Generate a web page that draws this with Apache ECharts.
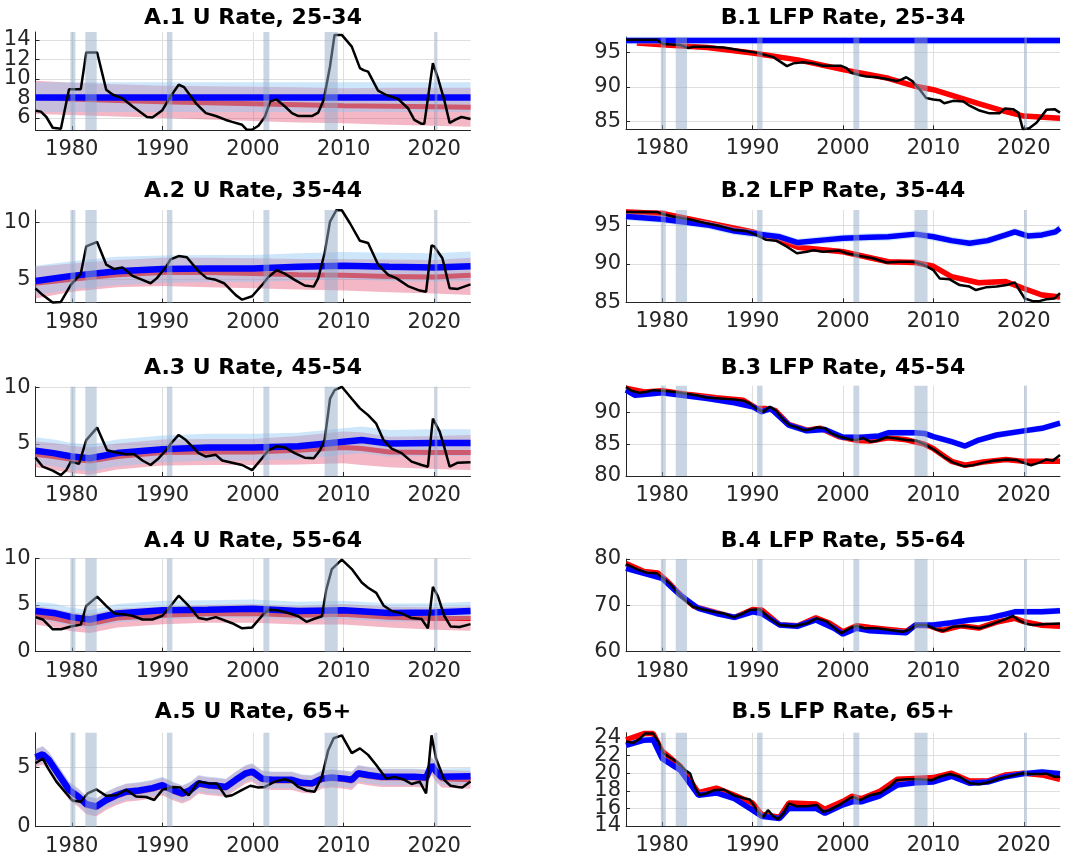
<!DOCTYPE html>
<html><head><meta charset="utf-8">
<script src="https://cdn.jsdelivr.net/npm/echarts@6/dist/echarts.min.js"></script>
<style>html,body{margin:0;padding:0;background:#fff}#c{width:1081px;height:867px}</style>
</head><body><div id="c"></div>
<script>
// ---------- DATA ----------
const xTicks = [1980, 1990, 2000, 2010, 2020];
const recessions = [[1979.85,1980.4],[1981.5,1982.75],[1990.5,1991.1],[2001.15,2001.8],[2007.9,2009.35],[2020.05,2020.35]];

const titles = ['A.1 U Rate, 25-34','B.1 LFP Rate, 25-34','A.2 U Rate, 35-44','B.2 LFP Rate, 35-44',
  'A.3 U Rate, 45-54','B.3 LFP Rate, 45-54','A.4 U Rate, 55-64','B.4 LFP Rate, 55-64','A.5 U Rate, 65+','B.5 LFP Rate, 65+'];

const a1Ticks = [6,8,10,12,14];
const a2Ticks = [5,10];
const a3Ticks = [5,10];
const a4Ticks = [0,5,10];
const a5Ticks = [0,5];
const b1Ticks = [85,90,95];
const b2Ticks = [85,90,95];
const b3Ticks = [80,85,90];
const b4Ticks = [60,70,80];
const b5Ticks = [14,16,18,20,22,24];

// A.1
const a1Black = [[1976,6.75],[1976.6,6.65],[1977.2,6.1],[1977.9,5.0],[1978.8,4.9],[1979.7,8.95],[1981.0,8.95],[1981.6,12.7],[1982.8,12.7],[1983.8,8.9],[1984.5,8.4],[1985.6,8.0],[1986.7,7.2],[1988.3,6.1],[1988.9,6.05],[1990.0,6.8],[1990.9,8.2],[1991.8,9.4],[1992.4,9.15],[1993.7,7.5],[1994.8,6.5],[1995.9,6.2],[1997.0,5.8],[1997.7,5.6],[1998.8,5.3],[1999.3,4.8],[1999.9,4.8],[2000.6,5.2],[2001.3,6.1],[2001.9,7.7],[2002.6,7.9],[2003.5,7.2],[2004.3,6.5],[2005.0,6.2],[2006.5,6.2],[2007.2,6.55],[2007.8,7.85],[2008.5,11.3],[2009.0,14.5],[2009.8,14.5],[2010.9,13.3],[2011.8,11.1],[2012.2,10.9],[2012.7,10.75],[2013.8,8.8],[2014.7,8.35],[2016.0,7.95],[2017.1,7.0],[2017.8,5.8],[2018.6,5.4],[2018.9,5.4],[2019.85,11.6],[2020.4,10.1],[2021.1,7.85],[2021.7,5.5],[2022.4,5.85],[2023.0,6.1],[2024.0,5.9]];
const a1Red = [[1976,8.1],[1980,7.95],[1985,7.8],[1990,7.65],[1995,7.55],[2000,7.45],[2005,7.35],[2010,7.25],[2015,7.2],[2020,7.15],[2024,7.1]];
const a1RedBand = [[1976,6.4,9.8],[1980,6.3,9.6],[1985,6.15,9.45],[1990,6.0,9.3],[1995,5.85,9.25],[2000,5.7,9.2],[2005,5.55,9.15],[2010,5.45,9.05],[2015,5.3,9.1],[2020,5.2,9.1],[2024,5.1,9.1]];
const a1Blue = [[1976,8.1],[2024,8.1]];
const a1BlueBand = [[1976,6.6,9.65],[2024,6.6,9.65]];

// A.2
const a2Black = [[1976,4.2],[1976.8,3.6],[1977.9,2.95],[1978.8,3.0],[1979.9,4.5],[1981.0,5.5],[1981.6,7.9],[1982.8,8.3],[1983.8,6.3],[1984.7,5.9],[1985.6,6.05],[1986.7,5.3],[1987.8,4.95],[1988.7,4.65],[1989.4,5.1],[1990.4,6.1],[1990.9,6.75],[1991.8,7.05],[1992.7,6.95],[1994.0,5.7],[1994.9,5.1],[1995.9,4.95],[1996.8,4.65],[1998.1,3.6],[1998.8,3.2],[1999.9,3.5],[2001.0,4.5],[2001.7,5.2],[2002.6,5.8],[2003.5,5.5],[2004.6,4.95],[2005.7,4.45],[2006.7,4.35],[2007.2,5.1],[2007.9,7.3],[2008.5,10.1],[2009.2,11.1],[2009.8,11.1],[2010.7,9.95],[2011.8,8.4],[2012.7,8.2],[2013.8,6.3],[2014.9,5.4],[2015.8,5.1],[2017.1,4.4],[2018.4,4.0],[2019.1,3.9],[2019.7,8.0],[2020.0,7.9],[2020.9,6.85],[2021.7,4.2],[2022.6,4.15],[2023.3,4.35],[2024,4.55]];
const a2Red = [[1976,4.65],[1980,5.0],[1985,5.4],[1990,5.6],[1995,5.6],[2000,5.5],[2005,5.4],[2010,5.35],[2015,5.25],[2020,5.2],[2024,5.35]];
const a2RedBand = [[1976,3.3,6.1],[1980,3.9,6.4],[1985,4.3,6.7],[1990,4.4,6.9],[1995,4.3,6.9],[2000,4.2,6.85],[2005,4.1,6.8],[2010,4.0,6.8],[2015,3.85,6.75],[2020,3.75,6.7],[2024,3.6,6.9]];
const a2Blue = [[1976,4.85],[1980,5.3],[1985,5.7],[1990,5.9],[1995,5.95],[2000,5.95],[2005,6.1],[2010,6.2],[2015,6.1],[2020,6.05],[2024,6.15]];
const a2BlueBand = [[1976,3.6,6.2],[1980,4.1,6.6],[1985,4.5,7.0],[1990,4.7,7.1],[1995,4.75,7.15],[2000,4.75,7.15],[2005,4.9,7.3],[2010,5.0,7.4],[2015,4.85,7.35],[2020,4.8,7.3],[2024,4.85,7.45]];

// A.3
const a3Black = [[1976,3.8],[1976.8,3.0],[1977.9,2.65],[1978.8,2.25],[1979.4,2.7],[1979.9,3.45],[1980.8,3.25],[1981.6,5.35],[1982.8,6.45],[1983.9,4.45],[1984.9,4.25],[1986.0,4.1],[1986.9,4.1],[1987.8,3.55],[1988.7,3.15],[1989.6,3.75],[1990.4,4.45],[1991.1,5.2],[1991.8,5.8],[1992.6,5.35],[1994.0,4.2],[1994.8,3.9],[1995.9,4.05],[1996.6,3.55],[1997.7,3.35],[1998.8,3.15],[1999.9,2.7],[2001.0,3.75],[2001.7,4.45],[2002.6,4.8],[2003.5,4.7],[2004.6,4.2],[2005.7,3.8],[2006.7,3.75],[2007.4,4.45],[2007.9,5.35],[2008.5,9.0],[2009.0,9.75],[2009.8,10.05],[2010.9,9.0],[2011.8,8.15],[2012.7,7.55],[2013.6,6.8],[2014.4,5.35],[2015.3,4.6],[2016.4,4.2],[2017.5,3.45],[2018.6,3.15],[2019.3,3.0],[2019.85,7.25],[2020.6,6.1],[2021.1,4.75],[2021.7,3.0],[2022.6,3.35],[2024,3.4]];
const a3Red = [[1976,4.1],[1978,3.9],[1980,3.65],[1982,3.5],[1985,3.9],[1990,4.25],[1995,4.3],[2000,4.3],[2005,4.45],[2010,4.7],[2012,4.6],[2015,4.3],[2020,4.25],[2024,4.25]];
const a3RedBand = [[1976,2.95,5.25],[1978,2.7,5.1],[1980,2.45,4.85],[1982,2.3,4.7],[1985,2.75,5.05],[1990,3.1,5.4],[1995,3.15,5.45],[2000,3.15,5.45],[2005,3.2,5.7],[2010,3.3,6.1],[2012,3.15,6.05],[2015,2.95,5.65],[2020,2.8,5.7],[2024,2.7,5.8]];
const a3Blue = [[1976,4.4],[1978,4.2],[1980,3.9],[1982,3.75],[1985,4.2],[1990,4.55],[1995,4.7],[2000,4.7],[2005,4.8],[2010,5.2],[2012,5.35],[2015,5.05],[2020,5.1],[2024,5.1]];
const a3BlueBand = [[1976,3.25,5.6],[1978,3.05,5.4],[1980,2.75,5.1],[1982,2.6,4.95],[1985,3.05,5.4],[1990,3.4,5.75],[1995,3.55,5.9],[2000,3.55,5.9],[2005,3.65,6.0],[2010,4.05,6.4],[2012,4.2,6.55],[2015,3.9,6.25],[2020,3.95,6.3],[2024,3.95,6.3]];

// A.4
const a4Black = [[1976,3.7],[1976.8,3.45],[1977.9,2.4],[1978.8,2.4],[1979.9,2.7],[1981.0,2.9],[1981.6,4.9],[1982.8,5.9],[1983.8,4.9],[1984.7,4.1],[1985.6,4.0],[1986.7,3.85],[1987.8,3.45],[1988.9,3.45],[1990.0,3.85],[1990.9,4.9],[1991.8,6.0],[1992.9,4.9],[1994.0,3.6],[1994.9,3.45],[1995.9,3.7],[1997.7,3.05],[1998.8,2.5],[1999.9,2.6],[2001.0,3.85],[2001.7,4.5],[2002.6,4.45],[2003.9,4.15],[2005.0,3.8],[2005.9,3.2],[2006.7,3.5],[2007.6,3.8],[2008.1,6.7],[2008.7,8.85],[2009.8,9.85],[2010.9,8.85],[2012.0,7.4],[2012.7,6.85],[2013.6,6.3],[2014.4,4.95],[2015.3,4.35],[2016.4,4.1],[2017.5,3.6],[2018.6,3.5],[2019.3,2.5],[2019.85,6.95],[2020.4,5.95],[2021.1,3.85],[2021.8,2.7],[2022.8,2.65],[2024,2.95]];
const a4Red = [[1976,3.9],[1978,3.6],[1980,3.2],[1982,3.0],[1985,3.6],[1990,3.9],[1995,4.05],[2000,4.1],[2005,3.9],[2010,4.0],[2015,3.7],[2020,3.55],[2024,3.55]];
const a4RedBand = [[1976,2.9,4.9],[1978,2.6,4.6],[1980,2.2,4.2],[1982,2.0,4.0],[1985,2.6,4.6],[1990,2.95,4.85],[1995,3.1,5.0],[2000,3.1,5.1],[2005,2.9,4.9],[2010,2.9,5.1],[2015,2.6,4.8],[2020,2.35,4.75],[2024,2.25,4.85]];
const a4Blue = [[1976,4.35],[1978,4.15],[1980,3.7],[1982,3.45],[1985,4.1],[1990,4.45],[1995,4.5],[2000,4.6],[2005,4.35],[2010,4.45],[2015,4.15],[2020,4.2],[2024,4.35]];
const a4BlueBand = [[1976,3.4,5.35],[1978,3.2,5.15],[1980,2.75,4.7],[1982,2.5,4.45],[1985,3.15,5.1],[1990,3.5,5.45],[1995,3.55,5.5],[2000,3.65,5.6],[2005,3.4,5.35],[2010,3.5,5.45],[2015,3.2,5.15],[2020,3.25,5.2],[2024,3.4,5.35]];

// A.5
const a5Black = [[1976,5.35],[1976.8,5.75],[1977.4,4.9],[1978.3,3.8],[1979.4,2.8],[1980.1,2.2],[1981.0,2.1],[1981.75,2.8],[1982.7,3.15],[1983.8,2.6],[1984.9,2.65],[1986.0,3.1],[1987.1,2.55],[1988.2,2.5],[1989.1,2.25],[1990.0,3.1],[1991.1,3.35],[1992.0,3.3],[1992.9,2.65],[1994.0,3.8],[1995.1,3.65],[1996.0,3.65],[1997.0,2.55],[1997.7,2.65],[1998.8,3.1],[1999.7,3.45],[2000.6,3.3],[2001.3,3.35],[2002.4,3.8],[2003.5,4.0],[2004.3,3.8],[2005.0,3.35],[2005.9,3.05],[2006.8,2.95],[2007.6,4.2],[2008.3,6.45],[2008.9,7.45],[2009.8,7.7],[2010.9,6.2],[2011.8,6.6],[2012.7,6.05],[2013.6,5.2],[2014.7,4.05],[2015.6,4.2],[2016.7,3.95],[2017.5,3.6],[2018.4,3.8],[2019.1,2.8],[2019.7,7.7],[2020.2,5.75],[2021.1,3.95],[2021.8,3.45],[2022.6,3.35],[2023.1,3.3],[2024,3.8]];
const a5Blue = [[1976,5.85],[1976.8,6.1],[1977.5,5.6],[1978.6,4.35],[1979.7,3.1],[1980.7,2.55],[1981.6,1.9],[1982.7,1.7],[1983.8,2.25],[1984.9,2.65],[1986.0,2.95],[1987.4,3.05],[1988.9,3.25],[1990.0,3.5],[1991.1,3.1],[1992.2,2.8],[1993.1,3.1],[1994.0,3.65],[1995.1,3.5],[1996.0,3.45],[1997.0,3.35],[1998.1,3.95],[1999.2,4.5],[1999.9,4.65],[2001.0,4.05],[2002.1,3.95],[2003.2,3.95],[2004.3,3.95],[2005.4,3.7],[2006.5,3.65],[2007.6,4.05],[2008.7,4.15],[2010.1,4.05],[2010.9,3.95],[2011.6,4.5],[2012.7,4.35],[2014.2,4.2],[2016.0,4.2],[2017.8,4.2],[2019.1,4.15],[2019.7,5.2],[2020.2,4.65],[2020.8,4.2],[2024,4.25]];
const a5Red = [[1976,5.75],[1976.8,6.0],[1977.5,5.5],[1978.6,4.25],[1979.7,3.0],[1980.7,2.45],[1981.6,1.8],[1982.7,1.6],[1983.8,2.15],[1984.9,2.55],[1986.0,2.85],[1987.4,2.95],[1988.9,3.15],[1990.0,3.4],[1991.1,3.0],[1992.2,2.7],[1993.1,3.0],[1994.0,3.55],[1995.1,3.4],[1996.0,3.35],[1997.0,3.25],[1998.1,3.85],[1999.2,4.4],[1999.9,4.55],[2001.0,3.95],[2002.1,3.85],[2003.2,3.85],[2004.3,3.85],[2005.4,3.6],[2006.5,3.55],[2007.6,3.95],[2008.7,4.05],[2010.1,3.95],[2010.9,3.85],[2011.6,4.4],[2012.7,4.25],[2014.2,4.1],[2016.0,4.1],[2017.8,4.1],[2019.1,4.05],[2019.7,5.1],[2020.2,4.55],[2020.8,4.05],[2024,3.95]];
const a5BandHalf = {red: 0.75, blue: 0.7};

// B.1
const b1Black = [[1976,96.8],[1979.4,96.8],[1980.1,96.2],[1982.0,96.05],[1982.9,95.6],[1983.4,95.8],[1984.9,95.8],[1986.8,95.7],[1988.6,95.3],[1990.4,94.95],[1992.3,94.3],[1993.8,93.0],[1994.5,93.4],[1995.6,93.55],[1996.7,93.4],[1997.8,93.05],[1999.8,93.05],[2000.4,92.7],[2000.9,92.05],[2001.9,91.7],[2002.6,91.5],[2003.7,91.4],[2004.8,91.15],[2005.9,90.85],[2006.5,91.1],[2007.0,91.4],[2007.7,90.8],[2008.5,89.6],[2009.2,88.4],[2010.0,88.2],[2010.7,88.1],[2011.2,87.65],[2012.2,88.0],[2013.3,87.9],[2014.0,87.3],[2015.1,86.6],[2016.2,86.2],[2017.3,86.2],[2017.9,86.9],[2018.8,86.8],[2019.4,86.3],[2019.9,83.9],[2020.6,84.05],[2021.4,84.85],[2022.5,86.7],[2023.4,86.8],[2024,86.3]];
const b1Red = [[1977.2,96.35],[1980,96.1],[1985,95.7],[1990,94.9],[1995,93.9],[2000,92.5],[2005,91.25],[2008,90.1],[2010,89.6],[2015,87.6],[2018,86.45],[2020,85.8],[2024,85.5]];
const b1Blue = [[1976,96.7],[2024,96.7]];
const b1BandHalf = {red: 0.35, blue: 0.55};

// B.2
const b2Black = [[1976,96.8],[1979.4,96.8],[1980.1,96.5],[1981.2,96.2],[1983.1,95.8],[1984.9,95.3],[1986.4,94.95],[1987.9,94.45],[1989.3,94.3],[1990.4,93.8],[1991.5,93.15],[1992.6,93.05],[1993.8,92.25],[1994.9,91.4],[1996.0,91.6],[1996.7,91.8],[1997.8,91.6],[1999.6,91.75],[2000.4,91.4],[2001.9,91.05],[2003.3,90.75],[2004.8,90.2],[2006.3,90.3],[2007.7,90.3],[2008.8,89.95],[2010.0,89.2],[2010.7,88.1],[2011.8,88.0],[2012.9,87.25],[2014.0,87.05],[2014.7,86.6],[2015.8,86.95],[2017.0,87.05],[2018.1,87.25],[2019.0,87.6],[2019.4,86.8],[2020.1,85.5],[2021.0,85.15],[2021.7,85.15],[2022.5,85.4],[2023.4,85.5],[2024,86.2]];
const b2Red = [[1976,96.8],[1980,96.6],[1985,95.4],[1990,94.2],[1993,93.1],[1995,92.2],[2000,91.6],[2005,90.3],[2008,90.2],[2010,89.7],[2012,88.35],[2015,87.55],[2018,87.7],[2020,86.8],[2022,85.95],[2024,85.7]];
const b2Blue = [[1976,96.2],[1980,95.85],[1985,95.1],[1988,94.3],[1990,94.0],[1993,93.55],[1995,92.8],[1998,93.15],[2000,93.35],[2003,93.5],[2005,93.55],[2008,93.9],[2010,93.55],[2012,93.05],[2014,92.7],[2016,93.05],[2018,93.8],[2019,94.2],[2020.5,93.65],[2022,93.8],[2023.5,94.2],[2024,94.65]];
const b2BandHalf = {red: 0.35, blue: 0.5};

// B.3
const b3Black = [[1976,94.0],[1976.6,93.4],[1977.5,93.1],[1978.3,93.25],[1979.0,93.5],[1980.1,93.4],[1981.2,93.25],[1982.3,93.0],[1983.8,92.7],[1984.9,92.35],[1986.4,92.2],[1987.9,92.05],[1989.0,91.85],[1989.7,91.4],[1990.4,90.6],[1991.2,90.1],[1991.9,90.9],[1992.6,90.25],[1993.4,88.8],[1994.1,88.0],[1994.9,87.65],[1995.6,87.2],[1996.3,87.3],[1997.1,87.65],[1998.0,87.5],[1998.7,86.7],[1999.6,86.2],[2000.8,85.75],[2001.5,85.65],[2002.2,86.0],[2003.0,85.4],[2003.7,85.5],[2004.8,86.1],[2005.9,85.9],[2007.0,85.65],[2008.1,85.55],[2009.2,84.85],[2010.0,84.2],[2011.1,83.05],[2012.2,82.1],[2013.3,81.55],[2014.4,81.7],[2015.5,82.1],[2016.6,82.4],[2018.1,82.6],[2019.2,82.5],[2019.9,82.1],[2020.8,81.7],[2021.7,82.1],[2022.5,82.6],[2023.2,82.4],[2024,83.3]];
const b3Red = [[1976,93.8],[1978,93.2],[1980,93.4],[1983,92.8],[1986,92.3],[1989,91.9],[1990.5,90.6],[1991.5,90.6],[1992.5,90.3],[1994,88.1],[1996,87.2],[1997.5,87.5],[1999.5,86.2],[2001.5,85.6],[2003,85.5],[2005,86.0],[2007,85.7],[2009,85.0],[2010,84.3],[2012,82.3],[2013.5,81.7],[2015.5,82.2],[2018,82.6],[2020,82.3],[2022,82.3],[2024,82.3]];
const b3Blue = [[1976,93.5],[1977,92.7],[1980,93.1],[1985,92.2],[1988,91.5],[1990,90.9],[1991,90.1],[1992,90.6],[1994,88.0],[1996,87.1],[1998,87.3],[2000,86.1],[2002,86.1],[2004,86.3],[2005,86.8],[2008,86.8],[2009,86.7],[2010,86.2],[2012,85.4],[2013.5,84.7],[2015,85.65],[2017,86.45],[2020,87.1],[2022,87.5],[2024,88.3]];
const b3BandHalf = {red: 0.35, blue: 0.5};

// B.4
const b4Black = [[1976,78.9],[1977.2,77.8],[1978.3,77.05],[1979.4,76.9],[1980.1,75.8],[1980.9,74.6],[1981.6,72.95],[1982.3,71.5],[1983.4,69.7],[1984.5,69.1],[1985.7,68.6],[1986.8,68.25],[1987.9,67.4],[1989.0,68.3],[1989.7,69.0],[1990.8,69.15],[1991.9,67.2],[1993.0,65.75],[1994.5,65.5],[1996.0,66.1],[1997.1,67.2],[1998.2,66.5],[1999.3,64.7],[1999.8,64.0],[2000.75,65.05],[2001.5,65.55],[2002.4,65.05],[2003.7,65.05],[2005.2,64.7],[2006.6,64.3],[2007.4,64.8],[2008.1,65.75],[2009.2,65.75],[2010.3,64.8],[2011.1,64.5],[2012.2,65.4],[2013.3,65.55],[2014.4,65.25],[2015.1,65.05],[2016.2,65.75],[2017.7,66.8],[2018.8,67.7],[2019.5,66.7],[2020.3,66.0],[2021.0,65.75],[2022.5,66.0],[2024,66.1]];
const b4Red = [[1976,79.0],[1978,77.3],[1979.5,77.0],[1980.5,75.3],[1982,72.3],[1983.5,69.8],[1986,68.4],[1988,67.4],[1990,69.1],[1991,69.0],[1993,65.8],[1995,65.6],[1997,67.3],[1998.5,66.2],[2000,64.3],[2001.5,65.6],[2003,65.2],[2005,64.8],[2007,64.4],[2008,65.7],[2009.5,65.6],[2011,64.6],[2013,65.6],[2015,65.1],[2017,66.4],[2019,67.2],[2020,66.5],[2022,65.7],[2024,65.5]];
const b4Blue = [[1976,78.0],[1978,76.9],[1980,75.8],[1982,72.2],[1984,69.35],[1986,68.25],[1988,67.4],[1990,68.6],[1991,68.25],[1993,65.75],[1995,65.5],[1997,66.85],[1999,65.05],[2000,63.8],[2001.5,65.05],[2003,64.5],[2005,64.3],[2007,64.1],[2008,65.75],[2010,65.75],[2012,66.25],[2014,66.85],[2016,67.2],[2018,68.1],[2019,68.6],[2022,68.6],[2024,68.85]];
const b4BandHalf = {red: 0.5, blue: 0.7};

// B.5
const b5Black = [[1976,23.6],[1976.8,23.45],[1977.5,23.9],[1978.1,24.5],[1979.0,24.5],[1979.6,23.55],[1980.1,22.3],[1980.9,21.75],[1981.6,21.3],[1982.5,20.4],[1983.1,19.95],[1983.6,18.45],[1984.1,17.5],[1984.9,17.7],[1985.7,18.05],[1986.8,18.15],[1987.9,17.5],[1989.0,17.15],[1989.7,17.0],[1990.1,16.4],[1990.8,15.25],[1991.2,15.05],[1991.7,15.8],[1992.3,15.1],[1992.8,14.75],[1993.4,15.4],[1994.0,16.55],[1994.9,16.25],[1996.0,16.25],[1997.1,16.4],[1997.8,15.6],[1998.5,15.8],[1999.6,16.4],[2000.75,17.15],[2001.1,17.3],[2001.9,16.95],[2003.0,17.5],[2004.1,17.75],[2005.2,18.5],[2005.9,19.2],[2007.0,19.3],[2008.5,19.3],[2009.8,19.2],[2010.7,19.6],[2011.8,19.9],[2012.9,19.6],[2014.0,18.85],[2015.1,18.75],[2016.2,19.0],[2017.3,19.4],[2018.8,19.75],[2019.9,20.0],[2020.6,19.9],[2021.7,19.9],[2022.5,19.95],[2023.4,19.6],[2024,19.6]];
const b5Red = [[1976,23.8],[1978,24.5],[1979,24.5],[1980,22.5],[1982,20.8],[1984,17.8],[1986,18.3],[1988,17.5],[1990,16.6],[1991,15.3],[1993,15.0],[1994,16.6],[1997,16.5],[1998,15.9],[2000,16.8],[2001,17.4],[2002,17.1],[2004,17.9],[2006,19.3],[2008,19.4],[2010,19.5],[2012,20.0],[2014,19.1],[2016,19.1],[2018,19.8],[2020,20.0],[2022,19.8],[2024,19.3]];
const b5Blue = [[1976,23.15],[1978,23.75],[1979,23.8],[1980,21.65],[1982,20.35],[1984,17.5],[1986,17.75],[1988,17.1],[1990,15.8],[1991,15.1],[1993,14.85],[1994,16.0],[1997,16.0],[1998,15.45],[2000,16.4],[2001,16.75],[2002,16.75],[2004,17.4],[2006,18.65],[2008,18.9],[2010,19.0],[2012,19.65],[2014,18.85],[2016,19.0],[2018,19.6],[2020,19.95],[2022,20.15],[2024,19.95]];
const b5BandHalf = {red: 0.3, blue: 0.35};

// ---------- LAYOUT / STYLE ----------
function halfBand(line, h) { return line.map(p => [p[0], p[1] - h, p[1] + h]); }

const panels = [
  {t:0, col:0, top:32,    bot:130,   min:4.77, max:14.8,  ticks:a1Ticks, black:a1Black, red:a1Red, blue:a1Blue, redBand:a1RedBand, blueBand:a1BlueBand, ty:18},
  {t:1, col:1, top:37,    bot:129.3, min:83.9, max:97.2,  ticks:b1Ticks, black:b1Black, red:b1Red, blue:b1Blue, redBand:halfBand(b1Red,b1BandHalf.red), blueBand:halfBand(b1Blue,b1BandHalf.blue), ty:18},
  {t:2, col:0, top:210,   bot:302.7, min:2.93, max:11.12, ticks:a2Ticks, black:a2Black, red:a2Red, blue:a2Blue, redBand:a2RedBand, blueBand:a2BlueBand, ty:191.5},
  {t:3, col:1, top:210,   bot:302.3, min:85,   max:97.05, ticks:b2Ticks, black:b2Black, red:b2Red, blue:b2Blue, redBand:halfBand(b2Red,b2BandHalf.red), blueBand:halfBand(b2Blue,b2BandHalf.blue), ty:191.5},
  {t:4, col:0, top:386.7, bot:476,   min:2.18, max:10.06, ticks:a3Ticks, black:a3Black, red:a3Red, blue:a3Blue, redBand:a3RedBand, blueBand:a3BlueBand, ty:368},
  {t:5, col:1, top:385.7, bot:476,   min:80,   max:94.2,  ticks:b3Ticks, black:b3Black, red:b3Red, blue:b3Blue, redBand:halfBand(b3Red,b3BandHalf.red), blueBand:halfBand(b3Blue,b3BandHalf.blue), ty:368},
  {t:6, col:0, top:558.3, bot:651.7, min:0,    max:10,    ticks:a4Ticks, black:a4Black, red:a4Red, blue:a4Blue, redBand:a4RedBand, blueBand:a4BlueBand, ty:541},
  {t:7, col:1, top:559,   bot:651.7, min:60,   max:80,    ticks:b4Ticks, black:b4Black, red:b4Red, blue:b4Blue, redBand:halfBand(b4Red,b4BandHalf.red), blueBand:halfBand(b4Blue,b4BandHalf.blue), ty:541},
  {t:8, col:0, top:732.7, bot:826.7, min:0,    max:7.92,  ticks:a5Ticks, black:a5Black, red:a5Red, blue:a5Blue, redBand:halfBand(a5Red,a5BandHalf.red), blueBand:halfBand(a5Blue,a5BandHalf.blue), ty:712.5},
  {t:9, col:1, top:732.7, bot:826,   min:14,   max:24.6,  ticks:b5Ticks, black:b5Black, red:b5Red, blue:b5Blue, redBand:halfBand(b5Red,b5BandHalf.red), blueBand:halfBand(b5Blue,b5BandHalf.blue), ty:712.5}
];
const colLeft = [35.5, 626];
const colWidth = [435, 434];
const FONT = 'DejaVu Sans';
const AXC = '#262626';
const GRIDC = '#dfdfdf';

function bandSeries(i, band, color, z) {
  return {
    type: 'custom', xAxisIndex: i, yAxisIndex: i, z: z, silent: true,
    data: band, encode: {x: 0, y: [1, 2]},
    renderItem: function (params, api) {
      if (params.dataIndex !== 0) return null;
      const pts = [];
      for (let k = 0; k < band.length; k++) pts.push(api.coord([band[k][0], band[k][2]]));
      for (let k = band.length - 1; k >= 0; k--) pts.push(api.coord([band[k][0], band[k][1]]));
      return {type: 'polygon', shape: {points: pts}, style: {fill: color}};
    }
  };
}
function lineSeries(i, data, color, width, z) {
  return {type: 'line', xAxisIndex: i, yAxisIndex: i, z: z, silent: true, data: data,
    showSymbol: false, symbol: 'none', lineStyle: {color: color, width: width}, animation: false};
}
function recessionSeries(i) {
  return {
    type: 'custom', xAxisIndex: i, yAxisIndex: i, z: 8, silent: true,
    data: recessions, encode: {x: [0, 1]},
    renderItem: function (params, api) {
      const cs = params.coordSys;
      const x0 = api.coord([api.value(0), 0])[0];
      const x1 = api.coord([api.value(1), 0])[0];
      return {type: 'rect', shape: {x: x0, y: cs.y, width: x1 - x0, height: cs.height},
        style: {fill: 'rgba(150,172,202,0.5)'}};
    }
  };
}
function yLabelStyle(values) {
  return {customValues: values, formatter: v => String(v), fontFamily: FONT, fontSize: 21,
    color: AXC, margin: 5, hideOverlap: false, showMinLabel: true, showMaxLabel: true};
}

const grids = [], xAxes = [], yAxes = [], extraY = [], series = [], graphics = [];
panels.forEach((p, i) => {
  const left = colLeft[p.col], width = colWidth[p.col];
  grids.push({left: left, top: p.top, width: width, height: p.bot - p.top});
  xAxes.push({
    type: 'value', gridIndex: i, min: 1976, max: 2024,
    axisLine: {show: true, onZero: false, lineStyle: {color: AXC, width: 1}},
    axisTick: {show: true, inside: true, length: 4, customValues: xTicks, lineStyle: {color: AXC}},
    axisLabel: {customValues: xTicks, formatter: v => String(v), fontFamily: FONT, fontSize: 21, color: AXC, margin: 9,
      hideOverlap: false, showMinLabel: true, showMaxLabel: true},
    splitLine: {show: true, lineStyle: {color: GRIDC, width: 1}}
  });
  // tick labels split over two co-located axes so that tightly spaced labels are all drawn
  const evenT = p.ticks.filter((v, k) => k % 2 === 0);
  const oddT = p.ticks.filter((v, k) => k % 2 === 1);
  yAxes.push({
    type: 'value', gridIndex: i, min: p.min, max: p.max, position: 'left',
    axisLine: {show: true, onZero: false, lineStyle: {color: AXC, width: 1}},
    axisTick: {show: true, inside: true, length: 4, customValues: p.ticks, lineStyle: {color: AXC}},
    axisLabel: yLabelStyle(evenT),
    splitLine: {show: true, lineStyle: {color: GRIDC, width: 1}}
  });
  if (oddT.length) {
    extraY.push({
      type: 'value', gridIndex: i, min: p.min, max: p.max, position: 'left', offset: 0,
      axisLine: {show: false, onZero: false}, axisTick: {show: false},
      axisLabel: yLabelStyle(oddT), splitLine: {show: false}
    });
  }
  const isA = p.col === 0;
  series.push(bandSeries(i, p.redBand, 'rgba(220,50,90,0.35)', 1));
  series.push(lineSeries(i, p.red, '#ff0000', isA ? 5 : 5.5, 2));
  series.push(bandSeries(i, p.blueBand, 'rgba(144,200,245,0.45)', 3));
  series.push(lineSeries(i, p.blue, '#0000ff', isA ? 6.5 : 5.5, 4));
  series.push(lineSeries(i, p.black, '#000000', 2.5, 5));
  series.push(recessionSeries(i));
  graphics.push({type: 'text', x: left + width / 2, y: p.ty, silent: true,
    style: {text: titles[p.t], font: 'bold 22px "DejaVu Sans"', fill: '#000',
      align: 'center', verticalAlign: 'middle', textAlign: 'center', textVerticalAlign: 'middle'}});
});

const chart = echarts.init(document.getElementById('c'), null, {renderer: 'canvas'});
chart.setOption({
  animation: false,
  backgroundColor: '#ffffff',
  textStyle: {fontFamily: FONT},
  grid: grids, xAxis: xAxes, yAxis: yAxes.concat(extraY), series: series, graphic: graphics
});
</script>
</body></html>
